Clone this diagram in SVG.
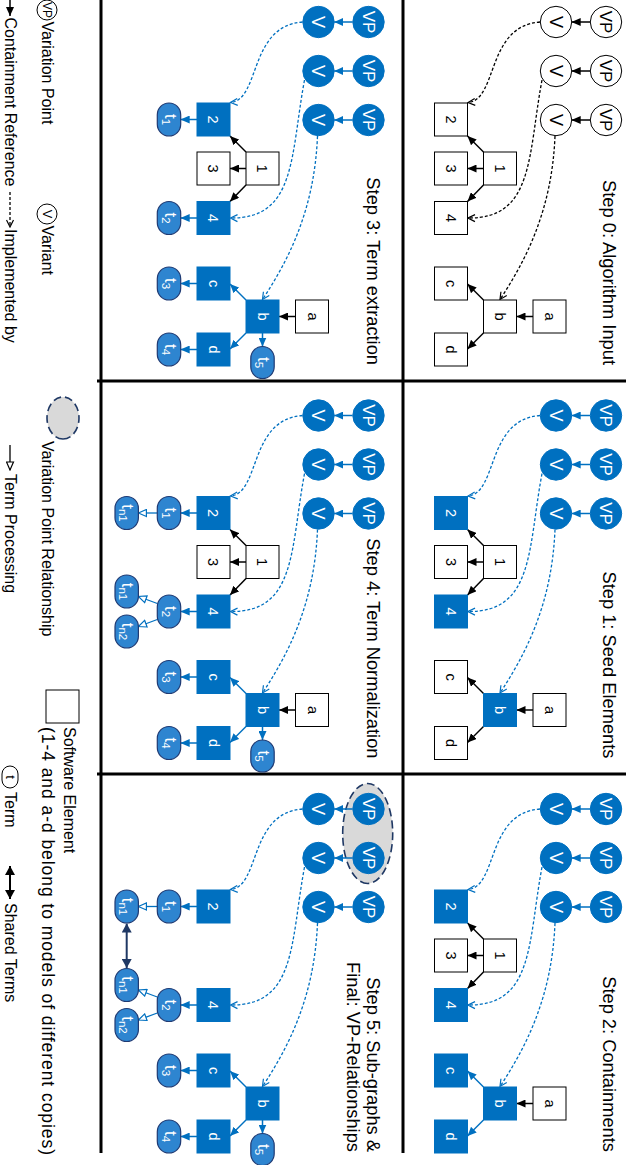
<svg xmlns="http://www.w3.org/2000/svg" width="626" height="1165" viewBox="0 0 626 1165">
<style>
text { font-family: "Liberation Sans", Arial, sans-serif; }
.w { fill:#fff; stroke:#000; stroke-width:1; }
.bl { fill:#0070C0; stroke:#0070C0; stroke-width:1; }
.tm { fill:#2E85D0; stroke:#1F3A73; stroke-width:1.2; }
.tc { text-anchor:middle; font-size:17px; }
.tv { text-anchor:middle; font-size:18px; }
.tb { text-anchor:middle; font-size:14.5px; }
.tt { text-anchor:middle; font-size:17px; fill:#fff; }
.k { fill:#000; }
.wt { fill:#fff; }
.title { font-size:18.3px; text-anchor:end; fill:#000; }
.leg { font-size:16px; fill:#000; }
.ck { fill:none; stroke:#000; stroke-width:1.5; marker-end:url(#ak); }
.cb { fill:none; stroke:#0070C0; stroke-width:1.5; marker-end:url(#ab); }
.dk { fill:none; stroke:#000; stroke-width:1.3; stroke-dasharray:3 2; marker-end:url(#ik); }
.db { fill:none; stroke:#0070C0; stroke-width:1.3; stroke-dasharray:3 2; marker-end:url(#ib); }
.tp { fill:none; stroke:#0070C0; stroke-width:1.3; marker-end:url(#pb); }
.tpk { fill:none; stroke:#000; stroke-width:1.3; marker-end:url(#pk); }
.sh { fill:none; stroke:#1F3864; stroke-width:2; marker-start:url(#sn); marker-end:url(#sn); }
.shk { fill:none; stroke:#000; stroke-width:2; marker-start:url(#sk); marker-end:url(#sk); }
.vpr { fill:#D9D9D9; stroke:#1F3864; stroke-width:1.6; stroke-dasharray:8 4; }
.div { stroke:#000; stroke-width:3; fill:none; }
</style>
<defs>
<marker id="ak" viewBox="0 0 9 8" refX="9" refY="4" markerWidth="9" markerHeight="8" markerUnits="userSpaceOnUse" orient="auto"><path d="M0,0 L9,4 L0,8 z" fill="#000"/></marker>
<marker id="ab" viewBox="0 0 9 8" refX="9" refY="4" markerWidth="9" markerHeight="8" markerUnits="userSpaceOnUse" orient="auto"><path d="M0,0 L9,4 L0,8 z" fill="#0070C0"/></marker>
<marker id="ik" viewBox="-1 -1 9 9" refX="7" refY="3.5" markerWidth="9" markerHeight="9" markerUnits="userSpaceOnUse" orient="auto"><path d="M0,0 L7,3.5 L0,7" fill="none" stroke="#000" stroke-width="1.2"/></marker>
<marker id="ib" viewBox="-1 -1 9 9" refX="7" refY="3.5" markerWidth="9" markerHeight="9" markerUnits="userSpaceOnUse" orient="auto"><path d="M0,0 L7,3.5 L0,7" fill="none" stroke="#0070C0" stroke-width="1.2"/></marker>
<marker id="pb" viewBox="-1 -1 10 9" refX="8" refY="3.5" markerWidth="10" markerHeight="9" markerUnits="userSpaceOnUse" orient="auto"><path d="M0,0 L8,3.5 L0,7 z" fill="#fff" stroke="#0070C0" stroke-width="1.2"/></marker>
<marker id="pk" viewBox="-1 -1 10 9" refX="8" refY="3.5" markerWidth="10" markerHeight="9" markerUnits="userSpaceOnUse" orient="auto"><path d="M0,0 L8,3.5 L0,7 z" fill="#fff" stroke="#000" stroke-width="1.2"/></marker>
<marker id="sn" viewBox="0 0 9 10" refX="9" refY="5" markerWidth="9" markerHeight="10" markerUnits="userSpaceOnUse" orient="auto-start-reverse"><path d="M0,0 L9,5 L0,10 z" fill="#1F3864"/></marker>
<marker id="sk" viewBox="0 0 9 10" refX="9" refY="5" markerWidth="9" markerHeight="10" markerUnits="userSpaceOnUse" orient="auto-start-reverse"><path d="M0,0 L9,5 L0,10 z" fill="#000"/></marker>
</defs>
<rect width="626" height="1165" fill="#fff"/>
<g id="landscape" transform="matrix(0 1 -1 0 626 0)">

<g id="dividers">
<line class="div" x1="0" y1="525" x2="1153" y2="525"/>
<line class="div" x1="0" y1="223" x2="1153" y2="223"/>
<line class="div" x1="381" y1="0" x2="381" y2="529"/>
<line class="div" x1="774" y1="0" x2="774" y2="529"/>
</g>

<!-- STEP 0 -->
<g id="step0">
<g id="s0-title"><text class="title" x="365" y="23.5">Step 0: Algorithm Input</text></g>
<g id="s0-edges">
<path class="ck" d="M22,36 L22,54.3"/><path class="ck" d="M71,36 L71,54.3"/><path class="ck" d="M120,36 L120,54.3"/>
<path class="ck" d="M152,142.5 L136,158.5"/><path class="ck" d="M168.5,142.5 L168.5,158.5"/><path class="ck" d="M185,142.5 L201.5,158.5"/>
<path class="ck" d="M316.5,93 L316.5,109.5"/><path class="ck" d="M300,142.5 L284,158.5"/><path class="ck" d="M333,142.5 L349,158.5"/>
<path class="dk" d="M22,86 C26,140 100,128 102.5,158"/>
<path class="dk" d="M80,84 C155,98 219,92 218,158"/>
<path class="dk" d="M136,71 C210,74 260,100 299.5,126"/>
</g>
<g id="s0-vp1"><circle class="w" cx="22" cy="20" r="15.7"/><text class="tc k" x="22" y="26">VP</text></g>
<g id="s0-vp2"><circle class="w" cx="71" cy="20" r="15.7"/><text class="tc k" x="71" y="26">VP</text></g>
<g id="s0-vp3"><circle class="w" cx="120" cy="20" r="15.7"/><text class="tc k" x="120" y="26">VP</text></g>
<g id="s0-v1"><circle class="w" cx="22" cy="70" r="15.7"/><text class="tv k" x="22" y="76.4">V</text></g>
<g id="s0-v2"><circle class="w" cx="71" cy="70" r="15.7"/><text class="tv k" x="71" y="76.4">V</text></g>
<g id="s0-v3"><circle class="w" cx="120" cy="70" r="15.7"/><text class="tv k" x="120" y="76.4">V</text></g>
<g id="s0-e1"><rect class="w" x="152" y="109.5" width="33" height="33"/><text class="tb k" x="168.5" y="131.2">1</text></g>
<g id="s0-e2"><rect class="w" x="103" y="158.5" width="33" height="33"/><text class="tb k" x="119.5" y="180.2">2</text></g>
<g id="s0-e3"><rect class="w" x="152" y="158.5" width="33" height="33"/><text class="tb k" x="168.5" y="180.2">3</text></g>
<g id="s0-e4"><rect class="w" x="201.5" y="158.5" width="33" height="33"/><text class="tb k" x="218" y="180.2">4</text></g>
<g id="s0-ea"><rect class="w" x="300" y="60" width="33" height="33"/><text class="tb k" x="316.5" y="81">a</text></g>
<g id="s0-eb"><rect class="w" x="300" y="109.5" width="33" height="33"/><text class="tb k" x="316.5" y="131">b</text></g>
<g id="s0-ec"><rect class="w" x="267" y="158.5" width="33" height="33"/><text class="tb k" x="283.5" y="180">c</text></g>
<g id="s0-ed"><rect class="w" x="333" y="158.5" width="33" height="33"/><text class="tb k" x="349.5" y="180">d</text></g>
</g>

<!-- STEP 1 -->
<g id="step1" transform="translate(393.5,0)">
<g id="s1-title"><text class="title" x="365" y="23.5">Step 1: Seed Elements</text></g>
<g id="s1-edges">
<path class="cb" d="M22,36 L22,54.3"/><path class="cb" d="M71,36 L71,54.3"/><path class="cb" d="M120,36 L120,54.3"/>
<path class="ck" d="M152,142.5 L136,158.5"/><path class="ck" d="M168.5,142.5 L168.5,158.5"/><path class="ck" d="M185,142.5 L201.5,158.5"/>
<path class="ck" d="M316.5,93 L316.5,109.5"/><path class="ck" d="M300,142.5 L284,158.5"/><path class="ck" d="M333,142.5 L349,158.5"/>
<path class="db" d="M22,86 C26,140 100,128 102.5,158"/>
<path class="db" d="M80,84 C155,98 219,92 218,158"/>
<path class="db" d="M136,71 C210,74 260,100 299.5,126"/>
</g>
<g id="s1-vp1"><circle class="bl" cx="22" cy="20" r="15.7"/><text class="tc wt" x="22" y="26">VP</text></g>
<g id="s1-vp2"><circle class="bl" cx="71" cy="20" r="15.7"/><text class="tc wt" x="71" y="26">VP</text></g>
<g id="s1-vp3"><circle class="bl" cx="120" cy="20" r="15.7"/><text class="tc wt" x="120" y="26">VP</text></g>
<g id="s1-v1"><circle class="bl" cx="22" cy="70" r="15.7"/><text class="tv wt" x="22" y="76.4">V</text></g>
<g id="s1-v2"><circle class="bl" cx="71" cy="70" r="15.7"/><text class="tv wt" x="71" y="76.4">V</text></g>
<g id="s1-v3"><circle class="bl" cx="120" cy="70" r="15.7"/><text class="tv wt" x="120" y="76.4">V</text></g>
<g id="s1-e1"><rect class="w" x="152" y="109.5" width="33" height="33"/><text class="tb k" x="168.5" y="131.2">1</text></g>
<g id="s1-e2"><rect class="bl" x="103" y="158.5" width="33" height="33"/><text class="tb wt" x="119.5" y="180.2">2</text></g>
<g id="s1-e3"><rect class="w" x="152" y="158.5" width="33" height="33"/><text class="tb k" x="168.5" y="180.2">3</text></g>
<g id="s1-e4"><rect class="bl" x="201.5" y="158.5" width="33" height="33"/><text class="tb wt" x="218" y="180.2">4</text></g>
<g id="s1-ea"><rect class="w" x="300" y="60" width="33" height="33"/><text class="tb k" x="316.5" y="81">a</text></g>
<g id="s1-eb"><rect class="bl" x="300" y="109.5" width="33" height="33"/><text class="tb wt" x="316.5" y="131">b</text></g>
<g id="s1-ec"><rect class="w" x="267" y="158.5" width="33" height="33"/><text class="tb k" x="283.5" y="180">c</text></g>
<g id="s1-ed"><rect class="w" x="333" y="158.5" width="33" height="33"/><text class="tb k" x="349.5" y="180">d</text></g>
</g>

<!-- STEP 2 -->
<g id="step2" transform="translate(787,0)">
<g id="s2-title"><text class="title" x="365" y="23.5">Step 2: Containments</text></g>
<g id="s2-edges">
<path class="cb" d="M22,36 L22,54.3"/><path class="cb" d="M71,36 L71,54.3"/><path class="cb" d="M120,36 L120,54.3"/>
<path class="ck" d="M152,142.5 L136,158.5"/><path class="ck" d="M168.5,142.5 L168.5,158.5"/><path class="ck" d="M185,142.5 L201.5,158.5"/>
<path class="ck" d="M316.5,93 L316.5,109.5"/><path class="cb" d="M300,142.5 L284,158.5"/><path class="cb" d="M333,142.5 L349,158.5"/>
<path class="db" d="M22,86 C26,140 100,128 102.5,158"/>
<path class="db" d="M80,84 C155,98 219,92 218,158"/>
<path class="db" d="M136,71 C210,74 260,100 299.5,126"/>
</g>
<g id="s2-vp1"><circle class="bl" cx="22" cy="20" r="15.7"/><text class="tc wt" x="22" y="26">VP</text></g>
<g id="s2-vp2"><circle class="bl" cx="71" cy="20" r="15.7"/><text class="tc wt" x="71" y="26">VP</text></g>
<g id="s2-vp3"><circle class="bl" cx="120" cy="20" r="15.7"/><text class="tc wt" x="120" y="26">VP</text></g>
<g id="s2-v1"><circle class="bl" cx="22" cy="70" r="15.7"/><text class="tv wt" x="22" y="76.4">V</text></g>
<g id="s2-v2"><circle class="bl" cx="71" cy="70" r="15.7"/><text class="tv wt" x="71" y="76.4">V</text></g>
<g id="s2-v3"><circle class="bl" cx="120" cy="70" r="15.7"/><text class="tv wt" x="120" y="76.4">V</text></g>
<g id="s2-e1"><rect class="w" x="152" y="109.5" width="33" height="33"/><text class="tb k" x="168.5" y="131.2">1</text></g>
<g id="s2-e2"><rect class="bl" x="103" y="158.5" width="33" height="33"/><text class="tb wt" x="119.5" y="180.2">2</text></g>
<g id="s2-e3"><rect class="w" x="152" y="158.5" width="33" height="33"/><text class="tb k" x="168.5" y="180.2">3</text></g>
<g id="s2-e4"><rect class="bl" x="201.5" y="158.5" width="33" height="33"/><text class="tb wt" x="218" y="180.2">4</text></g>
<g id="s2-ea"><rect class="w" x="300" y="60" width="33" height="33"/><text class="tb k" x="316.5" y="81">a</text></g>
<g id="s2-eb"><rect class="bl" x="300" y="109.5" width="33" height="33"/><text class="tb wt" x="316.5" y="131">b</text></g>
<g id="s2-ec"><rect class="bl" x="267" y="158.5" width="33" height="33"/><text class="tb wt" x="283.5" y="180">c</text></g>
<g id="s2-ed"><rect class="bl" x="333" y="158.5" width="33" height="33"/><text class="tb wt" x="349.5" y="180">d</text></g>
</g>

<!-- STEP 3 -->
<g id="step3" transform="translate(0,237.5)">
<g id="s3-title"><text class="title" x="365" y="22">Step 3: Term extraction</text></g>
<g id="s3-edges">
<path class="cb" d="M22,36 L22,54.3"/><path class="cb" d="M71,36 L71,54.3"/><path class="cb" d="M120,36 L120,54.3"/>
<path class="ck" d="M152,142.5 L136,158.5"/><path class="ck" d="M168.5,142.5 L168.5,158.5"/><path class="ck" d="M185,142.5 L201.5,158.5"/>
<path class="ck" d="M316.5,93 L316.5,109.5"/><path class="cb" d="M300,142.5 L284,158.5"/><path class="cb" d="M333,142.5 L349,158.5"/>
<path class="db" d="M22,86 C26,140 100,128 102.5,158"/>
<path class="db" d="M80,84 C155,98 219,92 218,158"/>
<path class="db" d="M136,71 C210,74 260,100 299.5,126"/>
<path class="cb" d="M119.5,191.5 L119.5,207.8"/><path class="cb" d="M218,191.5 L218,207.8"/>
<path class="cb" d="M283.5,191.5 L283.5,207.8"/><path class="cb" d="M349.5,191.5 L349.5,207.8"/>
<path class="cb" d="M333,126 L346.5,126"/>
</g>
<g id="s3-vp1"><circle class="bl" cx="22" cy="20" r="15.7"/><text class="tc wt" x="22" y="26">VP</text></g>
<g id="s3-vp2"><circle class="bl" cx="71" cy="20" r="15.7"/><text class="tc wt" x="71" y="26">VP</text></g>
<g id="s3-vp3"><circle class="bl" cx="120" cy="20" r="15.7"/><text class="tc wt" x="120" y="26">VP</text></g>
<g id="s3-v1"><circle class="bl" cx="22" cy="70" r="15.7"/><text class="tv wt" x="22" y="76.4">V</text></g>
<g id="s3-v2"><circle class="bl" cx="71" cy="70" r="15.7"/><text class="tv wt" x="71" y="76.4">V</text></g>
<g id="s3-v3"><circle class="bl" cx="120" cy="70" r="15.7"/><text class="tv wt" x="120" y="76.4">V</text></g>
<g id="s3-e1"><rect class="w" x="152" y="109.5" width="33" height="33"/><text class="tb k" x="168.5" y="131.2">1</text></g>
<g id="s3-e2"><rect class="bl" x="103" y="158.5" width="33" height="33"/><text class="tb wt" x="119.5" y="180.2">2</text></g>
<g id="s3-e3"><rect class="w" x="152" y="158.5" width="33" height="33"/><text class="tb k" x="168.5" y="180.2">3</text></g>
<g id="s3-e4"><rect class="bl" x="201.5" y="158.5" width="33" height="33"/><text class="tb wt" x="218" y="180.2">4</text></g>
<g id="s3-ea"><rect class="w" x="300" y="60" width="33" height="33"/><text class="tb k" x="316.5" y="81">a</text></g>
<g id="s3-eb"><rect class="bl" x="300" y="109.5" width="33" height="33"/><text class="tb wt" x="316.5" y="131">b</text></g>
<g id="s3-ec"><rect class="bl" x="267" y="158.5" width="33" height="33"/><text class="tb wt" x="283.5" y="180">c</text></g>
<g id="s3-ed"><rect class="bl" x="333" y="158.5" width="33" height="33"/><text class="tb wt" x="349.5" y="180">d</text></g>
<g id="s3-t1"><rect class="tm" x="103" y="207.8" width="33" height="23.4" rx="11.7"/><text class="tt" x="119.5" y="224">t<tspan font-size="11.5" dy="3">1</tspan></text></g>
<g id="s3-t2"><rect class="tm" x="201.5" y="207.8" width="33" height="23.4" rx="11.7"/><text class="tt" x="218" y="224">t<tspan font-size="11.5" dy="3">2</tspan></text></g>
<g id="s3-t3"><rect class="tm" x="267" y="207.8" width="33" height="23.4" rx="11.7"/><text class="tt" x="283.5" y="224">t<tspan font-size="11.5" dy="3">3</tspan></text></g>
<g id="s3-t4"><rect class="tm" x="333" y="207.8" width="33" height="23.4" rx="11.7"/><text class="tt" x="349.5" y="224">t<tspan font-size="11.5" dy="3">4</tspan></text></g>
<g id="s3-t5"><rect class="tm" x="346.5" y="114.3" width="32" height="23.4" rx="11.7"/><text class="tt" x="362.5" y="130.5">t<tspan font-size="11.5" dy="3">5</tspan></text></g>
</g>

<!-- STEP 4 -->
<g id="step4" transform="translate(393.5,237.5)">
<g id="s4-title"><text class="title" x="365" y="22">Step 4: Term Normalization</text></g>
<g id="s4-edges">
<path class="cb" d="M22,36 L22,54.3"/><path class="cb" d="M71,36 L71,54.3"/><path class="cb" d="M120,36 L120,54.3"/>
<path class="ck" d="M152,142.5 L136,158.5"/><path class="ck" d="M168.5,142.5 L168.5,158.5"/><path class="ck" d="M185,142.5 L201.5,158.5"/>
<path class="ck" d="M316.5,93 L316.5,109.5"/><path class="cb" d="M300,142.5 L284,158.5"/><path class="cb" d="M333,142.5 L349,158.5"/>
<path class="db" d="M22,86 C26,140 100,128 102.5,158"/>
<path class="db" d="M80,84 C155,98 219,92 218,158"/>
<path class="db" d="M136,71 C210,74 260,100 299.5,126"/>
<path class="cb" d="M119.5,191.5 L119.5,207.8"/><path class="cb" d="M218,191.5 L218,207.8"/>
<path class="cb" d="M283.5,191.5 L283.5,207.8"/><path class="cb" d="M349.5,191.5 L349.5,207.8"/>
<path class="cb" d="M333,126 L346.5,126"/>
<path class="tp" d="M119.5,231.2 L119.5,250.1"/>
<path class="tp" d="M210,231.2 L203,250.1"/><path class="tp" d="M226,231.2 L233,250.1"/>
</g>
<g id="s4-vp1"><circle class="bl" cx="22" cy="20" r="15.7"/><text class="tc wt" x="22" y="26">VP</text></g>
<g id="s4-vp2"><circle class="bl" cx="71" cy="20" r="15.7"/><text class="tc wt" x="71" y="26">VP</text></g>
<g id="s4-vp3"><circle class="bl" cx="120" cy="20" r="15.7"/><text class="tc wt" x="120" y="26">VP</text></g>
<g id="s4-v1"><circle class="bl" cx="22" cy="70" r="15.7"/><text class="tv wt" x="22" y="76.4">V</text></g>
<g id="s4-v2"><circle class="bl" cx="71" cy="70" r="15.7"/><text class="tv wt" x="71" y="76.4">V</text></g>
<g id="s4-v3"><circle class="bl" cx="120" cy="70" r="15.7"/><text class="tv wt" x="120" y="76.4">V</text></g>
<g id="s4-e1"><rect class="w" x="152" y="109.5" width="33" height="33"/><text class="tb k" x="168.5" y="131.2">1</text></g>
<g id="s4-e2"><rect class="bl" x="103" y="158.5" width="33" height="33"/><text class="tb wt" x="119.5" y="180.2">2</text></g>
<g id="s4-e3"><rect class="w" x="152" y="158.5" width="33" height="33"/><text class="tb k" x="168.5" y="180.2">3</text></g>
<g id="s4-e4"><rect class="bl" x="201.5" y="158.5" width="33" height="33"/><text class="tb wt" x="218" y="180.2">4</text></g>
<g id="s4-ea"><rect class="w" x="300" y="60" width="33" height="33"/><text class="tb k" x="316.5" y="81">a</text></g>
<g id="s4-eb"><rect class="bl" x="300" y="109.5" width="33" height="33"/><text class="tb wt" x="316.5" y="131">b</text></g>
<g id="s4-ec"><rect class="bl" x="267" y="158.5" width="33" height="33"/><text class="tb wt" x="283.5" y="180">c</text></g>
<g id="s4-ed"><rect class="bl" x="333" y="158.5" width="33" height="33"/><text class="tb wt" x="349.5" y="180">d</text></g>
<g id="s4-t1"><rect class="tm" x="103" y="207.8" width="33" height="23.4" rx="11.7"/><text class="tt" x="119.5" y="224">t<tspan font-size="11.5" dy="3">1</tspan></text></g>
<g id="s4-t2"><rect class="tm" x="201.5" y="207.8" width="33" height="23.4" rx="11.7"/><text class="tt" x="218" y="224">t<tspan font-size="11.5" dy="3">2</tspan></text></g>
<g id="s4-t3"><rect class="tm" x="267" y="207.8" width="33" height="23.4" rx="11.7"/><text class="tt" x="283.5" y="224">t<tspan font-size="11.5" dy="3">3</tspan></text></g>
<g id="s4-t4"><rect class="tm" x="333" y="207.8" width="33" height="23.4" rx="11.7"/><text class="tt" x="349.5" y="224">t<tspan font-size="11.5" dy="3">4</tspan></text></g>
<g id="s4-t5"><rect class="tm" x="346.5" y="114.3" width="32" height="23.4" rx="11.7"/><text class="tt" x="362.5" y="130.5">t<tspan font-size="11.5" dy="3">5</tspan></text></g>
<g id="s4-tn1a"><rect class="tm" x="103" y="250.1" width="33" height="23.4" rx="11.7"/><text class="tt" x="119.5" y="266.3">t<tspan font-size="11.5" dy="3">n1</tspan></text></g>
<g id="s4-tn1b"><rect class="tm" x="181.5" y="250.1" width="33" height="23.4" rx="11.7"/><text class="tt" x="198" y="266.3">t<tspan font-size="11.5" dy="3">n1</tspan></text></g>
<g id="s4-tn2"><rect class="tm" x="221.5" y="250.1" width="33" height="23.4" rx="11.7"/><text class="tt" x="238" y="266.3">t<tspan font-size="11.5" dy="3">n2</tspan></text></g>
</g>

<!-- STEP 5 -->
<g id="step5" transform="translate(787,237.5)">
<g id="s5-title"><text class="title" x="365" y="22">Step 5: Sub-graphs &amp;</text><text class="title" x="365" y="42">Final: VP-Relationships</text></g>
<g id="s5-vprel"><ellipse class="vpr" cx="46.5" cy="20.8" rx="50" ry="25"/></g>
<g id="s5-edges">
<path class="cb" d="M22,36 L22,54.3"/><path class="cb" d="M71,36 L71,54.3"/><path class="cb" d="M120,36 L120,54.3"/>
<path class="cb" d="M300,142.5 L284,158.5"/><path class="cb" d="M333,142.5 L349,158.5"/>
<path class="db" d="M22,86 C26,140 100,128 102.5,158"/>
<path class="db" d="M80,84 C155,98 219,92 218,158"/>
<path class="db" d="M136,71 C210,74 260,100 299.5,126"/>
<path class="cb" d="M119.5,191.5 L119.5,207.8"/><path class="cb" d="M218,191.5 L218,207.8"/>
<path class="cb" d="M283.5,191.5 L283.5,207.8"/><path class="cb" d="M349.5,191.5 L349.5,207.8"/>
<path class="cb" d="M333,126 L346.5,126"/>
<path class="tp" d="M119.5,231.2 L119.5,250.1"/>
<path class="tp" d="M210,231.2 L203,250.1"/><path class="tp" d="M226,231.2 L233,250.1"/>
<path class="sh" d="M136.5,261.8 L181,261.8"/>
</g>
<g id="s5-vp1"><circle class="bl" cx="22" cy="20" r="15.7"/><text class="tc wt" x="22" y="26">VP</text></g>
<g id="s5-vp2"><circle class="bl" cx="71" cy="20" r="15.7"/><text class="tc wt" x="71" y="26">VP</text></g>
<g id="s5-vp3"><circle class="bl" cx="120" cy="20" r="15.7"/><text class="tc wt" x="120" y="26">VP</text></g>
<g id="s5-v1"><circle class="bl" cx="22" cy="70" r="15.7"/><text class="tv wt" x="22" y="76.4">V</text></g>
<g id="s5-v2"><circle class="bl" cx="71" cy="70" r="15.7"/><text class="tv wt" x="71" y="76.4">V</text></g>
<g id="s5-v3"><circle class="bl" cx="120" cy="70" r="15.7"/><text class="tv wt" x="120" y="76.4">V</text></g>
<g id="s5-e2"><rect class="bl" x="103" y="158.5" width="33" height="33"/><text class="tb wt" x="119.5" y="180.2">2</text></g>
<g id="s5-e4"><rect class="bl" x="201.5" y="158.5" width="33" height="33"/><text class="tb wt" x="218" y="180.2">4</text></g>
<g id="s5-eb"><rect class="bl" x="300" y="109.5" width="33" height="33"/><text class="tb wt" x="316.5" y="131">b</text></g>
<g id="s5-ec"><rect class="bl" x="267" y="158.5" width="33" height="33"/><text class="tb wt" x="283.5" y="180">c</text></g>
<g id="s5-ed"><rect class="bl" x="333" y="158.5" width="33" height="33"/><text class="tb wt" x="349.5" y="180">d</text></g>
<g id="s5-t1"><rect class="tm" x="103" y="207.8" width="33" height="23.4" rx="11.7"/><text class="tt" x="119.5" y="224">t<tspan font-size="11.5" dy="3">1</tspan></text></g>
<g id="s5-t2"><rect class="tm" x="201.5" y="207.8" width="33" height="23.4" rx="11.7"/><text class="tt" x="218" y="224">t<tspan font-size="11.5" dy="3">2</tspan></text></g>
<g id="s5-t3"><rect class="tm" x="267" y="207.8" width="33" height="23.4" rx="11.7"/><text class="tt" x="283.5" y="224">t<tspan font-size="11.5" dy="3">3</tspan></text></g>
<g id="s5-t4"><rect class="tm" x="333" y="207.8" width="33" height="23.4" rx="11.7"/><text class="tt" x="349.5" y="224">t<tspan font-size="11.5" dy="3">4</tspan></text></g>
<g id="s5-t5"><rect class="tm" x="346.5" y="114.3" width="32" height="23.4" rx="11.7"/><text class="tt" x="362.5" y="130.5">t<tspan font-size="11.5" dy="3">5</tspan></text></g>
<g id="s5-tn1a"><rect class="tm" x="103" y="250.1" width="33" height="23.4" rx="11.7"/><text class="tt" x="119.5" y="266.3">t<tspan font-size="11.5" dy="3">n1</tspan></text></g>
<g id="s5-tn1b"><rect class="tm" x="181.5" y="250.1" width="33" height="23.4" rx="11.7"/><text class="tt" x="198" y="266.3">t<tspan font-size="11.5" dy="3">n1</tspan></text></g>
<g id="s5-tn2"><rect class="tm" x="221.5" y="250.1" width="33" height="23.4" rx="11.7"/><text class="tt" x="238" y="266.3">t<tspan font-size="11.5" dy="3">n2</tspan></text></g>
</g>

<!-- LEGEND -->
<g id="legend">
<g id="leg-vp"><circle class="w" cx="10" cy="579" r="10"/><text x="10" y="583.2" font-size="12" text-anchor="middle" class="k">VP</text><text class="leg" x="21.5" y="584">Variation Point</text></g>
<g id="leg-v"><circle class="w" cx="214" cy="579" r="10"/><text x="214" y="583.5" font-size="13" text-anchor="middle" class="k">V</text><text class="leg" x="225.5" y="584">Variant</text></g>
<g id="leg-vpr"><ellipse class="vpr" cx="418" cy="563" rx="21" ry="16"/><text class="leg" x="441" y="584" font-size="16.5px">Variation Point Relationship</text></g>
<g id="leg-se"><rect class="w" x="690" y="547" width="33" height="33"/><text class="leg" x="727" y="562">Software Element</text><text class="leg" x="727" y="584" style="font-size:17.5px" textLength="428" lengthAdjust="spacing">(1-4 and a-d belong to models of different copies)</text></g>
<g id="leg-cont"><path class="ck" d="M0,616 L16,616"/><text class="leg" x="17.5" y="621">Containment Reference</text></g>
<g id="leg-impl"><path class="dk" d="M192,616 L227,616"/><text class="leg" x="229" y="621">Implemented by</text></g>
<g id="leg-tp"><path class="tpk" d="M445,616 L470,616"/><text class="leg" x="474" y="621">Term Processing</text></g>
<g id="leg-term"><rect class="w" x="766" y="608" width="22" height="16" rx="8"/><text x="777" y="620" font-size="13" text-anchor="middle" class="k">t</text><text class="leg" x="792" y="621">Term</text></g>
<g id="leg-shared"><path class="shk" d="M866,616 L899,616"/><text class="leg" x="903" y="621">Shared Terms</text></g>
</g>

</g>
</svg>
